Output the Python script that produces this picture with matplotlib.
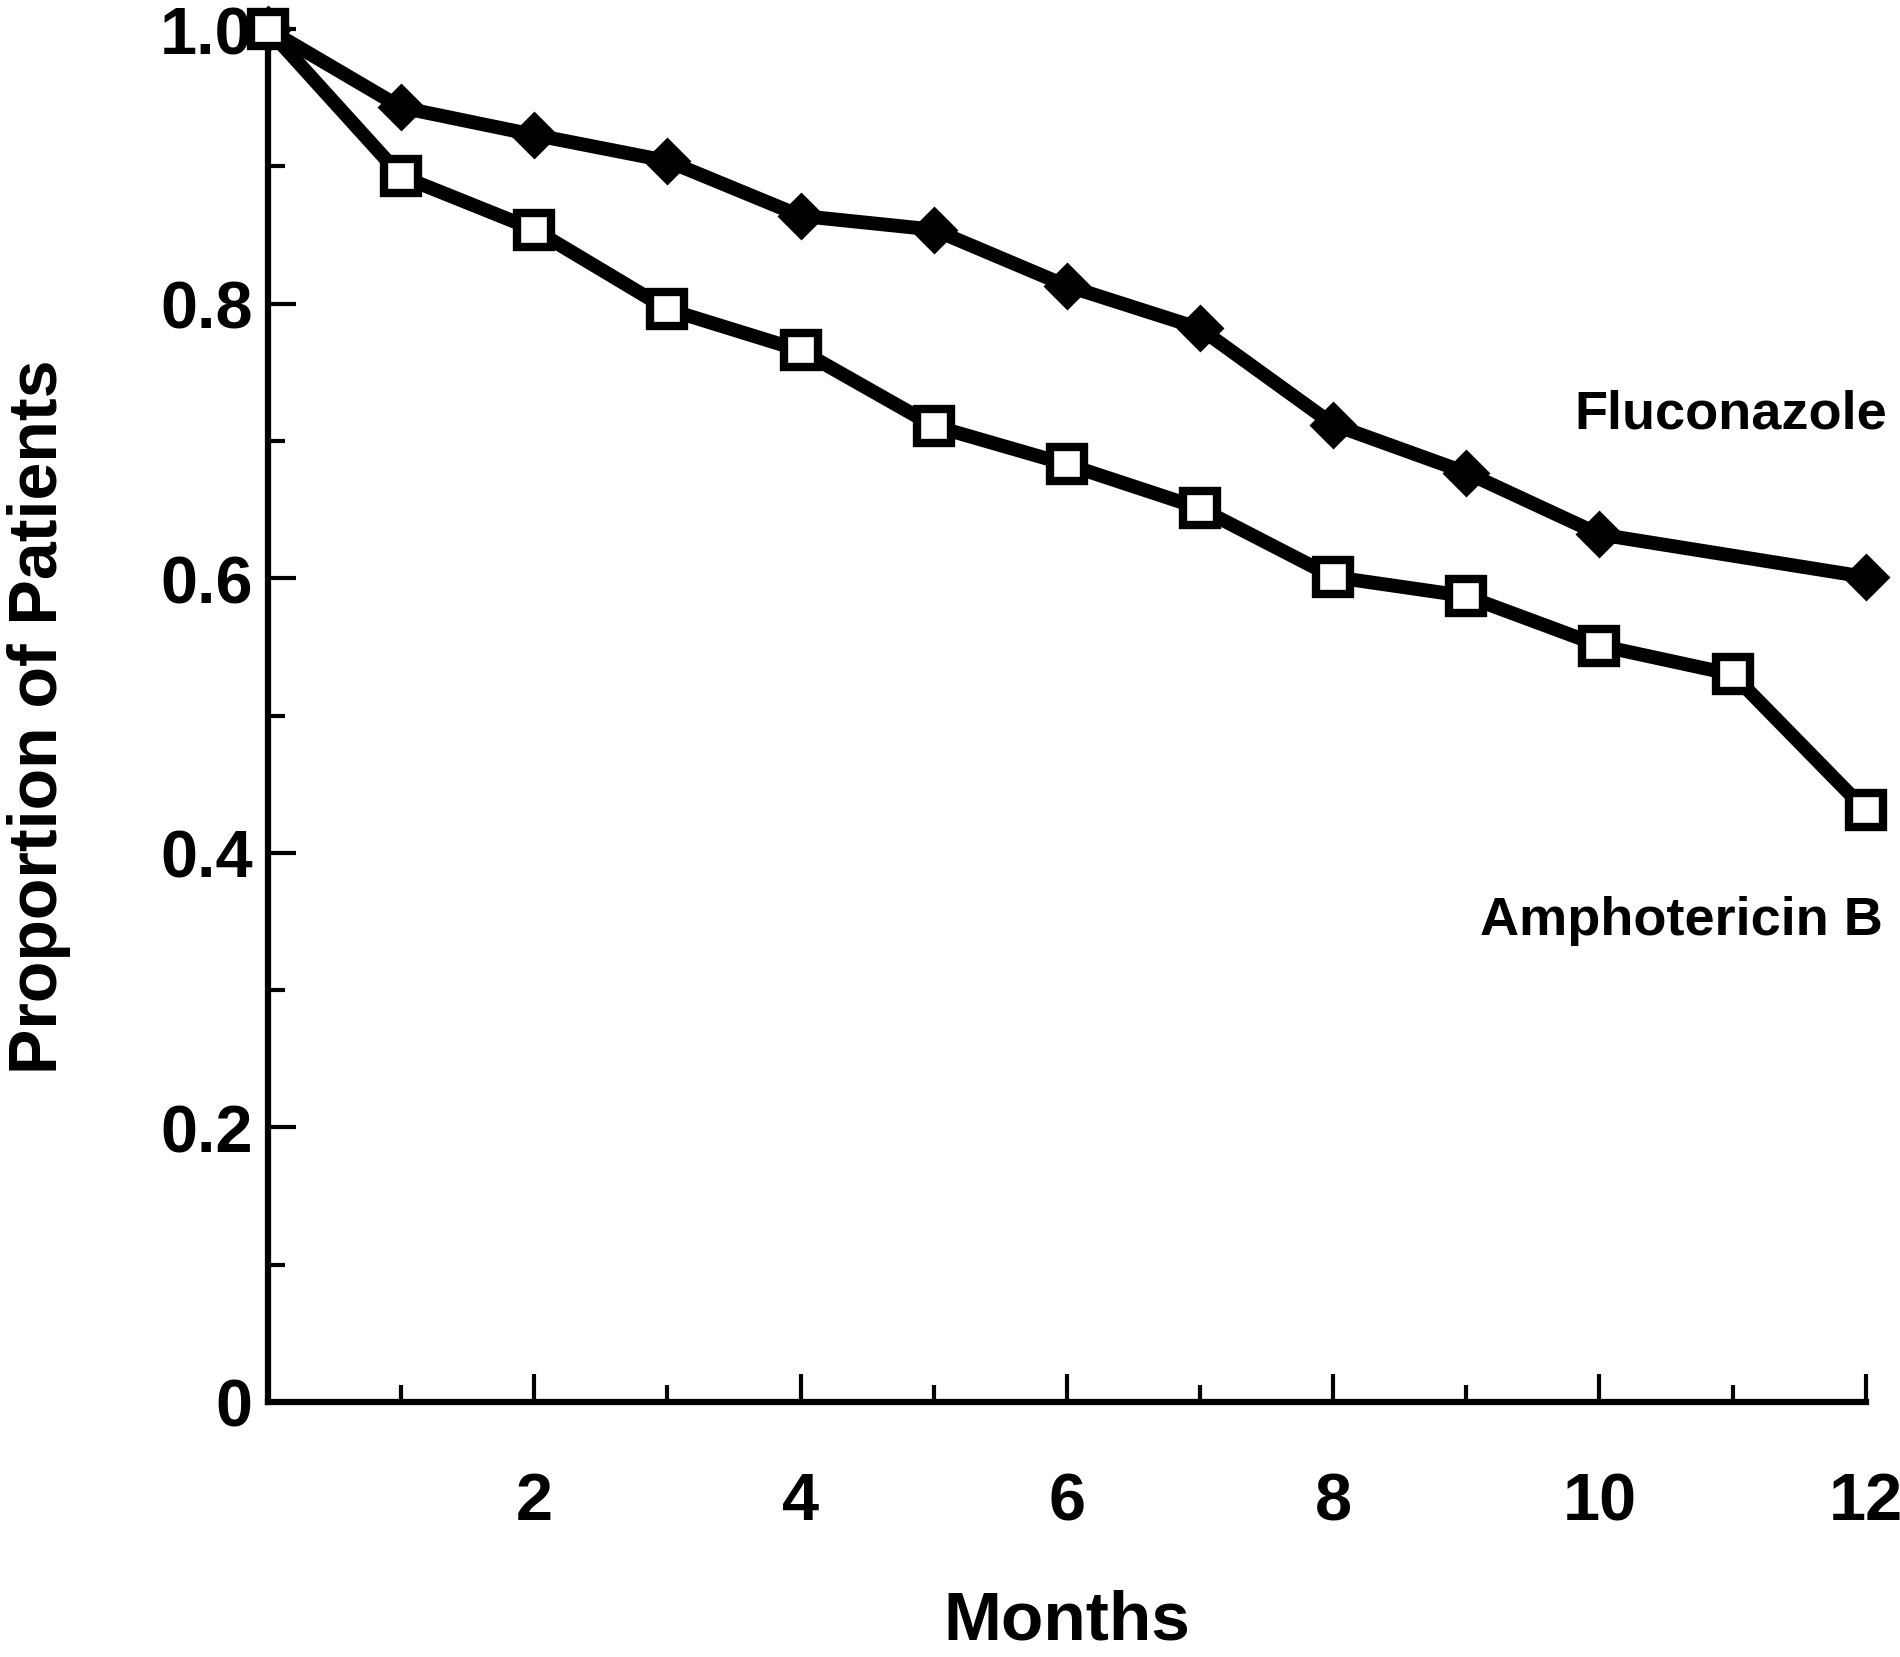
import numpy as np
import matplotlib
matplotlib.use("Agg")
import matplotlib.pyplot as plt

plt.rcParams['font.family'] = ['Liberation Sans', 'DejaVu Sans']
plt.rcParams['font.weight'] = 'bold'
plt.rcParams['axes.labelweight'] = 'bold'

# values (proportion of patients by month)
flu_months = [0, 1, 2, 3, 4, 5, 6, 7, 8, 9, 10, 12]
flu_prop = [1.0, 0.943, 0.923, 0.904, 0.864, 0.854, 0.813, 0.782, 0.712, 0.677, 0.632, 0.601]

amb_months = [0, 1, 2, 3, 4, 5, 6, 7, 8, 9, 10, 11, 12]
amb_prop = [1.0, 0.893, 0.854, 0.796, 0.766, 0.711, 0.683, 0.651, 0.601, 0.587, 0.551, 0.530, 0.431]

x_major = [2, 4, 6, 8, 10, 12]
x_minor = [1, 3, 5, 7, 9, 11]
y_major = [0, 0.2, 0.4, 0.6, 0.8, 1.0]
y_labels = ['0', '0.2', '0.4', '0.6', '0.8', '1.0']
y_minor = [0.1, 0.3, 0.5, 0.7, 0.9]

fig = plt.figure(figsize=(19, 16.58), dpi=100)
ax = fig.add_axes([0.141, 0.1538, 0.841, 0.828])

ax.plot(flu_months, flu_prop, color='black', lw=10, marker='D', ms=22,
        mfc='black', mec='black', mew=2, clip_on=False, zorder=3)
ax.plot(amb_months, amb_prop, color='black', lw=10, marker='s', ms=24,
        mfc='white', mec='black', mew=6, clip_on=False, zorder=4)

ax.set_xlim(0, 12)
ax.set_ylim(0, 1)
for s in ['top', 'right']:
    ax.spines[s].set_visible(False)
for s in ['left', 'bottom']:
    ax.spines[s].set_linewidth(4.5)

ax.set_xticks(x_major)
ax.set_xticks(x_minor, minor=True)
ax.set_yticks(y_major)
ax.set_yticklabels(y_labels)
ax.set_yticks(y_minor, minor=True)
ax.tick_params(which='major', direction='in', length=20, width=3, labelsize=48)
ax.tick_params(which='minor', direction='in', length=12, width=3)
ax.tick_params(axis='y', which='major', pad=11)
ax.tick_params(axis='x', which='major', pad=50)

ax.set_xlabel('Months', fontsize=50)
ax.xaxis.set_label_coords(0.5, -0.136)
ax.set_ylabel('Proportion of Patients', fontsize=49)
ax.yaxis.set_label_coords(-0.123, 0.5)

ax.text(12.16, 0.720, 'Fluconazole', fontsize=39, ha='right', va='center', clip_on=False)
ax.text(12.13, 0.351, 'Amphotericin B', fontsize=39, ha='right', va='center', clip_on=False)

fig.savefig('out.png', dpi=100)
